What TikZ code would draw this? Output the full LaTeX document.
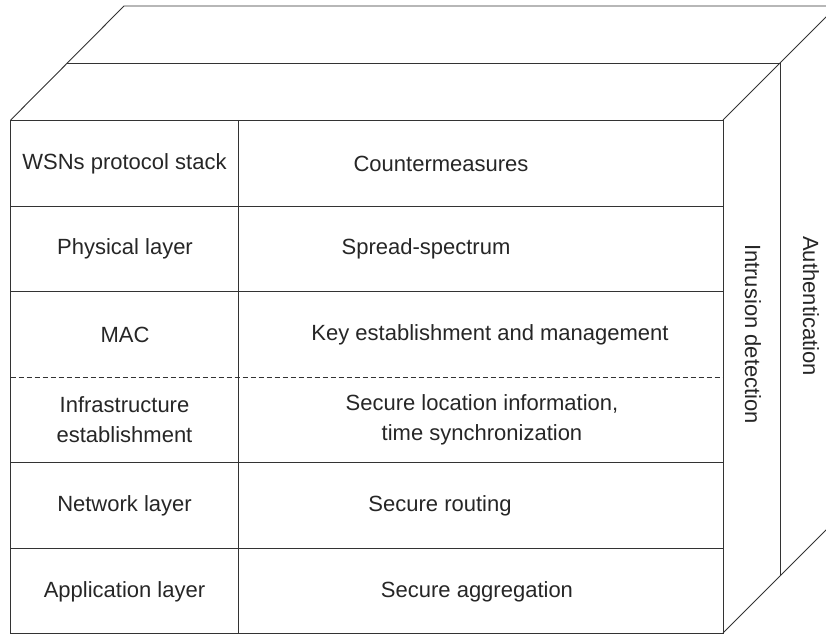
\documentclass[tikz,border=0pt]{standalone}
\usepackage{fontspec}
\setmainfont{Liberation Sans}

\begin{document}
\begin{tikzpicture}[x=1pt,y=-1pt,line width=0.9pt]
  \tikzstyle{frame}=[draw=black!80]
  \tikzstyle{lbl}=[font=\fontsize{22}{30}\selectfont,align=center,inner sep=0pt,text=black!85]
  \clip (0,0) rectangle (826,634);
  % back and middle layers
  \draw[frame] (10.7,120) -- (124,6) -- (860,6);
  \draw[frame] (723,120) -- (850,-7);
  \draw[frame] (723,633) -- (850,506);
  \draw[frame] (67,63) -- (780,63) -- (780,576);
  % front table
  \draw[frame] (10.7,120) rectangle (723,633);
  \draw[frame] (238,120) -- (238,633);
  \foreach \y in {206,291.5,462.5,548}
    \draw[frame] (10.7,\y) -- (723,\y);
  \draw[frame,dash pattern=on 5pt off 3pt] (10.7,377) -- (723,377);
  % labels
  \node[lbl] (stack) at (124.5,164) {WSNs protocol stack};
  \node[lbl] (counter) at (441,164) {Countermeasures};
  \node[lbl] (phy) at (125,249) {Physical layer};
  \node[lbl] (spread) at (426,249) {Spread-spectrum};
  \node[lbl] (mac) at (125,335) {MAC};
  \node[lbl] (keymgmt) at (490,335) {Key establishment and management};
  \node[lbl] (infra) at (124.5,420) {Infrastructure\\establishment};
  \node[lbl] (locsync) at (482,420) {Secure location information,\\time synchronization};
  \node[lbl] (net) at (124.5,506) {Network layer};
  \node[lbl] (routing) at (440,506) {Secure routing};
  \node[lbl] (app) at (124.5,592) {Application layer};
  \node[lbl] (aggr) at (477,592) {Secure aggregation};
  \node[lbl,rotate=-90] (intrusion) at (753,334) {Intrusion detection};
  \node[lbl,rotate=-90] (auth) at (811,306) {Authentication};
\end{tikzpicture}
\end{document}
